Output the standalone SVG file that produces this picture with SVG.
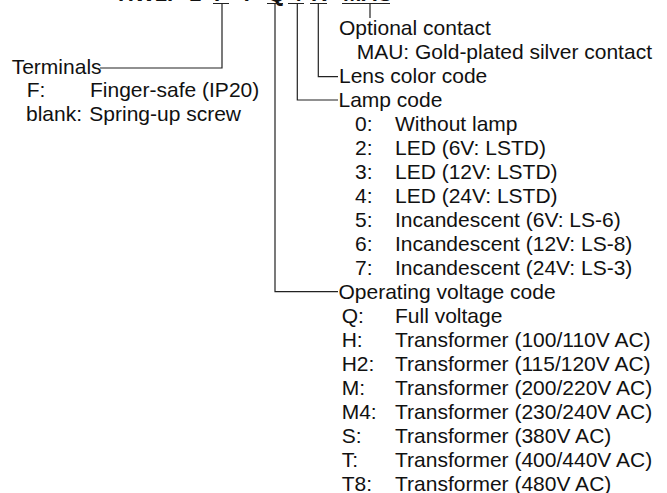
<svg xmlns="http://www.w3.org/2000/svg" width="667" height="493" viewBox="0 0 667 493">
<style>
text{font-family:"Liberation Sans",Arial,Helvetica,sans-serif;font-size:21px;fill:#111}
.title{font-weight:bold;font-size:22px}
.ln{stroke:#222;stroke-width:1.2;fill:none}
</style>
<rect width="667" height="493" fill="#fff"/>
<g id="title">
<text class="title" y="0.9"><tspan x="118">HW1P-1</tspan><tspan x="214">F</tspan><tspan x="240">T</tspan><tspan x="268">Q</tspan><tspan x="290">4</tspan><tspan x="311">R</tspan><tspan x="343">MAU</tspan></text>
</g>
<g id="connectors">
<path class="ln" d="M213 3.5H229M267 3.5H283M288 3.5H304M310 3.5H327M342 3.5H390"/>
<path class="ln" d="M222 3.5V68H100"/>
<path class="ln" d="M275 3.5V291.7H338"/>
<path class="ln" d="M297.3 3.5V100H338"/>
<path class="ln" d="M318.3 3.5V76.7H338"/>
<path class="ln" d="M370 3.5V18"/>
</g>
<g id="terminals">
<text x="11.7" y="74">Terminals</text>
<text x="26.7" y="97.3">F:</text><text x="90" y="97.3">Finger-safe (IP20)</text>
<text x="26" y="121">blank:</text><text x="89.3" y="121">Spring-up screw</text>
</g>
<g id="optional">
<text x="339" y="34.7">Optional contact</text>
<text x="356.7" y="58.7">MAU: Gold-plated silver contact</text>
</g>
<g id="lens">
<text x="339" y="82.7">Lens color code</text>
</g>
<g id="lamp">
<text x="338.5" y="106.7">Lamp code</text>
<text x="355" y="130.7">0:</text><text x="395" y="130.7">Without lamp</text>
<text x="355" y="154.7">2:</text><text x="395" y="154.7">LED (6V: LSTD)</text>
<text x="355" y="178.7">3:</text><text x="395" y="178.7">LED (12V: LSTD)</text>
<text x="355" y="202.7">4:</text><text x="395" y="202.7">LED (24V: LSTD)</text>
<text x="355" y="226.7">5:</text><text x="395" y="226.7">Incandescent (6V: LS-6)</text>
<text x="355" y="250.7">6:</text><text x="395" y="250.7">Incandescent (12V: LS-8)</text>
<text x="355" y="274.7">7:</text><text x="395" y="274.7">Incandescent (24V: LS-3)</text>
</g>
<g id="voltage">
<text x="338.5" y="298.7">Operating voltage code</text>
<text x="341.7" y="322.7">Q:</text><text x="395" y="322.7">Full voltage</text>
<text x="341.7" y="346.7">H:</text><text x="395" y="346.7">Transformer (100/110V AC)</text>
<text x="341.7" y="370.7">H2:</text><text x="395" y="370.7">Transformer (115/120V AC)</text>
<text x="341.7" y="394.7">M:</text><text x="395" y="394.7">Transformer (200/220V AC)</text>
<text x="341.7" y="418.7">M4:</text><text x="395" y="418.7">Transformer (230/240V AC)</text>
<text x="341.7" y="442.7">S:</text><text x="395" y="442.7">Transformer (380V AC)</text>
<text x="341.7" y="466.7">T:</text><text x="395" y="466.7">Transformer (400/440V AC)</text>
<text x="341.7" y="490.7">T8:</text><text x="395" y="490.7">Transformer (480V AC)</text>
</g>
</svg>
